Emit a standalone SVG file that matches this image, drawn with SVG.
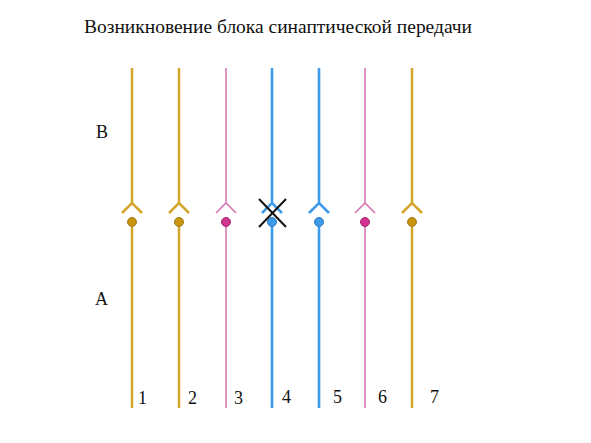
<svg xmlns="http://www.w3.org/2000/svg" width="591" height="443" viewBox="0 0 591 443">
<style>
.t{font-size:19px}
.l{font-size:18px}
.g{stroke:#D2A52C;stroke-width:2.5;fill:none}
.p{stroke:#D679B3;stroke-width:1.6;fill:none}
.b{stroke:#3C9BEA;stroke-width:2.6;fill:none}
.gd{fill:#C9940E;stroke:#9a7a20;stroke-width:1}
.pd{fill:#D2338E;stroke:#a02a70;stroke-width:1}
.bd{fill:#3C9BEA;stroke:#2a78c0;stroke-width:1}
</style>
<rect width="591" height="443" fill="#fff"/>
<g font-family="Liberation Serif, DejaVu Serif, serif" fill="#111">
<text class="t" x="84" y="33" textLength="388" lengthAdjust="spacingAndGlyphs">Возникновение блока синаптической передачи</text>
<text class="l" x="96" y="138">B</text>
<text class="l" x="95" y="305">A</text>
<text class="l" x="138" y="404">1</text>
<text class="l" x="188" y="404">2</text>
<text class="l" x="234" y="404">3</text>
<text class="l" x="282" y="403">4</text>
<text class="l" x="333" y="403">5</text>
<text class="l" x="378" y="403">6</text>
<text class="l" x="430" y="403">7</text>
</g>
<g id="connectors">
<g id="fiber1"><path class="g" d="M132 68V203M122 213L132 203L142 213M132 227V408"/><circle class="gd" cx="132" cy="222" r="4.5"/></g>
<g id="fiber2"><path class="g" d="M179 68V203M169 213L179 203L189 213M179 227V408"/><circle class="gd" cx="179" cy="222" r="4.5"/></g>
<g id="fiber3"><path class="p" d="M226 68V203M216 213L226 203L236 213M226 227V408"/><circle class="pd" cx="226" cy="222" r="4.5"/></g>
<g id="fiber4"><path class="b" d="M272 68V203M262 213L272 203L282 213M272 227V408"/><circle class="bd" cx="272" cy="222" r="4.5"/><path d="M259 199L286 227M286 199L259 227" stroke="#111" stroke-width="2" fill="none"/></g>
<g id="fiber5"><path class="b" d="M319 68V203M309 213L319 203L329 213M319 227V408"/><circle class="bd" cx="319" cy="222" r="4.5"/></g>
<g id="fiber6"><path class="p" d="M365 68V203M355 213L365 203L375 213M365 227V408"/><circle class="pd" cx="365" cy="222" r="4.5"/></g>
<g id="fiber7"><path class="g" d="M412 68V203M402 213L412 203L422 213M412 227V408"/><circle class="gd" cx="412" cy="222" r="4.5"/></g>
</g>
</svg>
